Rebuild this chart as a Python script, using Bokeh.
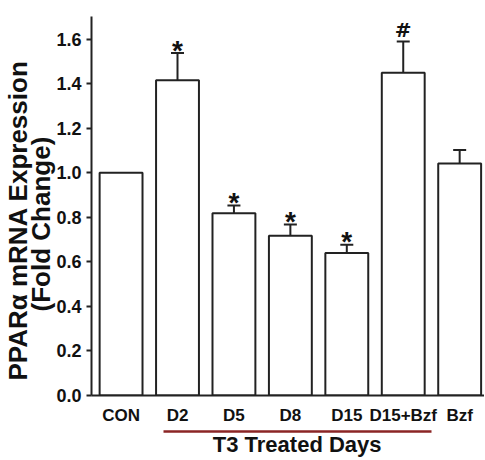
from bokeh.plotting import figure
from bokeh.models import (ColumnDataSource, FixedTicker, LinearAxis,
                          Range1d, NumeralTickFormatter)
from bokeh.core.properties import value
from bokeh.embed import file_html
from bokeh.resources import INLINE

# ---- data ----
groups = ["CON", "D2", "D5", "D8", "D15", "D15+Bzf", "Bzf"]
means = [1.00, 1.416, 0.819, 0.717, 0.640, 1.449, 1.042]
errors = [0.0, 0.122, 0.034, 0.051, 0.037, 0.141, 0.061]
marks = ["", "*", "*", "*", "*", "#", ""]
y_ticks = [0.0, 0.2, 0.4, 0.6, 0.8, 1.0, 1.2, 1.4, 1.6]
y_title_1 = "PPARα mRNA Expression"
y_title_2 = "(Fold Change)"
group_title = "T3 Treated Days"
treated_span = (0.746, 5.508)

FONT = "Liberation Sans"
INK = "#222222"
TXT = "#111111"
NB = "\u00a0"

xs = list(range(len(groups)))
tops = [m + e for m, e in zip(means, errors)]

p = figure(width=484, height=459, output_backend="svg", toolbar_location=None,
           x_range=Range1d(-0.524, 6.44), y_range=Range1d(0, 1.702),
           min_border_left=89, min_border_right=0, min_border_top=16,
           min_border_bottom=60, x_axis_type=None, y_axis_type=None)
p.outline_line_color = None
p.background_fill_color = "white"
p.border_fill_color = "white"

# bars
p.vbar(x=xs, top=means, width=0.76, bottom=0, fill_color="white",
       line_color=INK, line_width=2)

# error bars (upper only)
eb = ColumnDataSource(dict(x=[x for x, e in zip(xs, errors) if e > 0],
                           y0=[m for m, e in zip(means, errors) if e > 0],
                           y1=[t for t, e in zip(tops, errors) if e > 0]))
p.segment(x0="x", y0="y0", x1="x", y1="y1", source=eb, line_color=INK, line_width=2)
p.scatter(x="x", y="y1", source=eb, marker="dash", size=13, line_color=INK, line_width=2)

# significance marks
star_src = ColumnDataSource(dict(x=[x for x, m in zip(xs, marks) if m == "*"],
                                 y=[t for t, m in zip(tops, marks) if m == "*"],
                                 t=[m for m in marks if m == "*"]))
hash_src = ColumnDataSource(dict(x=[x for x, m in zip(xs, marks) if m == "#"],
                                 y=[t for t, m in zip(tops, marks) if m == "#"],
                                 t=[m for m in marks if m == "#"]))
p.text(x="x", y="y", text="t", source=star_src, text_font=value(FONT),
       text_font_style="bold", text_font_size="28px", text_align="center",
       text_baseline="alphabetic", y_offset=-3, text_color=TXT)
p.text(x="x", y="y", text="t", source=hash_src, text_font=value("DejaVu Sans"),
       text_font_style="bold", text_font_size="20px", text_align="center",
       text_baseline="alphabetic", y_offset=-11, text_color=TXT)

# y axis
yax = LinearAxis(ticker=FixedTicker(ticks=y_ticks),
                 formatter=NumeralTickFormatter(format="0.0"))
yax.axis_line_color = INK
yax.axis_line_width = 2
yax.major_tick_line_color = INK
yax.major_tick_line_width = 2
yax.major_tick_in = 0
yax.major_tick_out = 5
yax.minor_tick_line_color = None
yax.major_label_standoff = 5
yax.major_label_text_font = FONT
yax.major_label_text_font_style = "bold"
yax.major_label_text_font_size = "18px"
yax.major_label_text_color = TXT
# two-line title, tight line spacing; trailing no-break spaces nudge it down
yax.axis_label = y_title_1 + NB * 4 + "\n" + y_title_2 + NB * 5
yax.axis_label_standoff = -3
yax.axis_label_text_font = FONT
yax.axis_label_text_font_style = "bold"
yax.axis_label_text_font_size = "26px"
yax.axis_label_text_line_height = 0.78
yax.axis_label_text_color = TXT
p.add_layout(yax, "left")


def title_axis(text, standoff, where, bounds=None):
    ax = LinearAxis(ticker=FixedTicker(ticks=[]))
    if bounds is not None:
        ax.bounds = bounds
    ax.axis_line_color = None
    ax.major_tick_line_color = None
    ax.minor_tick_line_color = None
    ax.major_tick_in = 0
    ax.major_tick_out = 0
    ax.major_label_standoff = 0
    ax.axis_label = text
    ax.axis_label_standoff = standoff
    ax.axis_label_text_font = FONT
    ax.axis_label_text_font_style = "bold"
    ax.axis_label_text_color = TXT
    p.add_layout(ax, where)
    return ax


# x axis with group labels
xax = LinearAxis(ticker=FixedTicker(ticks=xs),
                 major_label_overrides={i: g for i, g in zip(xs, groups)})
xax.axis_line_color = INK
xax.axis_line_width = 2
xax.major_tick_line_color = None
xax.major_tick_in = 0
xax.major_tick_out = 0
xax.minor_tick_line_color = None
xax.major_label_standoff = 10
xax.major_label_text_font = FONT
xax.major_label_text_font_style = "bold"
xax.major_label_text_font_size = "17px"
xax.major_label_text_color = TXT
xax.axis_label = " "
xax.axis_label_text_font_size = "1px"
xax.axis_label_standoff = 0
p.add_layout(xax, "below")

# treated-days bracket line + title
gax = title_axis(NB * 3 + group_title, 0, "below", bounds=treated_span)
gax.axis_line_color = "#8b2525"
gax.axis_line_width = 2.5
gax.axis_label_text_font_size = "22px"

open("out.html", "w").write(file_html(p, INLINE))
